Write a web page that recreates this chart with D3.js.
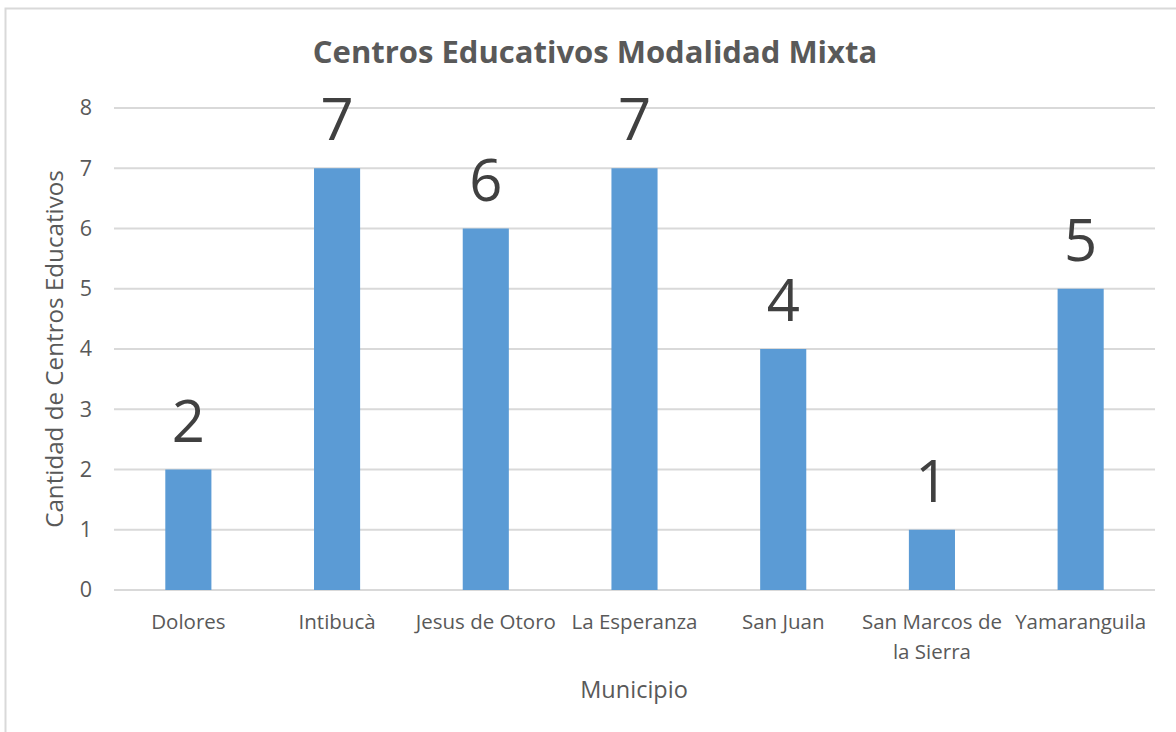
<!DOCTYPE html>
<html>
<head>
<meta charset="utf-8">
<script src="https://cdn.jsdelivr.net/npm/d3@7"></script>
<style>
  body { margin: 0; background: #fff; }
  svg { display: block; font-family: "Open Sans", sans-serif; }
  .grid line { stroke: #d9d9d9; stroke-width: 2; }
  .axis text { fill: #595959; font-size: 20.5px; font-family: "Open Sans", sans-serif; }
  .yaxis text { font-size: 21.5px; }
</style>
</head>
<body>
<div id="chart"></div>
<script>
// data
const municipios = ["Dolores", "Intibucà", "Jesus de Otoro", "La Esperanza", "San Juan", "San Marcos de la Sierra", "Yamaranguila"];
const centros = [2, 7, 6, 7, 4, 1, 5];
const yTicks = [0, 1, 2, 3, 4, 5, 6, 7, 8];

const width = 1176, height = 732;
const margin = {top: 108, right: 21, bottom: 142, left: 114};

const svg = d3.select("#chart").append("svg")
  .attr("width", width)
  .attr("height", height);

// outer chart border (cropped on right and bottom)
svg.append("rect")
  .attr("x", 5.5).attr("y", 8.5)
  .attr("width", 1200).attr("height", 800)
  .attr("fill", "none")
  .attr("stroke", "#d9d9d9")
  .attr("stroke-width", 2);

const x = d3.scaleBand()
  .domain(municipios)
  .range([margin.left, width - margin.right])
  .paddingInner(0.69)
  .paddingOuter(0.345);

const y = d3.scaleLinear()
  .domain([0, 8])
  .range([height - margin.bottom, margin.top]);

//gridlines
svg.append("g").attr("class", "grid")
  .selectAll("line").data(yTicks).enter().append("line")
  .attr("x1", margin.left)
  .attr("x2", width - margin.right)
  .attr("y1", d => y(d))
  .attr("y2", d => y(d));

//y axis labels
const yAxis = d3.axisLeft(y).tickValues(yTicks).tickSize(0).tickPadding(22);
svg.append("g").attr("class", "axis yaxis")
  .attr("transform", `translate(${margin.left},0)`)
  .call(yAxis)
  .call(g => g.select(".domain").remove());

//bars
svg.selectAll(".bar").data(municipios).enter().append("rect")
  .attr("class", "bar")
  .attr("x", d => x(d))
  .attr("width", x.bandwidth())
  .attr("y", (d, i) => y(centros[i]))
  .attr("height", (d, i) => y(0) - y(centros[i]))
  .attr("fill", "#5b9bd5");

//value labels
svg.selectAll(".val").data(municipios).enter().append("text")
  .attr("class", "val")
  .attr("x", d => x(d) + x.bandwidth() / 2)
  .attr("y", (d, i) => y(centros[i]) - 28)
  .attr("text-anchor", "middle")
  .attr("fill", "#404040")
  .style("font-size", "58px")
  .text((d, i) => centros[i]);

//x axis labels
const xAxis = d3.axisBottom(x).tickSize(0).tickPadding(24);
const xg = svg.append("g").attr("class", "axis")
  .attr("transform", `translate(0,${y(0)})`)
  .call(xAxis);
xg.select(".domain").remove();
xg.selectAll(".tick text").call(wrap, x.step() - 4);

function wrap(texts, w) {
  texts.each(function() {
    const text = d3.select(this);
    const words = text.text().split(/\s+/);
    const yy = text.attr("y"), dy = parseFloat(text.attr("dy"));
    let line = [], lineNo = 0;
    let tspan = text.text(null).append("tspan").attr("x", 0).attr("y", yy).attr("dy", dy + "em");
    words.forEach(word => {
      line.push(word);
      tspan.text(line.join(" "));
      if (tspan.node().getComputedTextLength() > w && line.length > 1) {
        line.pop();
        tspan.text(line.join(" "));
        line = [word];
        tspan = text.append("tspan").attr("x", 0).attr("y", yy)
          .attr("dy", (++lineNo * 1.5 + dy) + "em").text(word);
      }
    });
  });
}

//title
svg.append("text")
  .attr("x", 595).attr("y", 63)
  .attr("text-anchor", "middle")
  .attr("fill", "#595959")
  .style("font-size", "31px")
  .style("font-weight", "bold")
  .text("Centros Educativos Modalidad Mixta");

//axis titles
svg.append("text")
  .attr("x", 634).attr("y", 698)
  .attr("text-anchor", "middle")
  .attr("fill", "#595959")
  .style("font-size", "23.5px")
  .text("Municipio");

svg.append("text")
  .attr("transform", "translate(63,349) rotate(-90)")
  .attr("text-anchor", "middle")
  .attr("fill", "#595959")
  .style("font-size", "24.2px")
  .text("Cantidad de Centros Educativos");
</script>
</body>
</html>
